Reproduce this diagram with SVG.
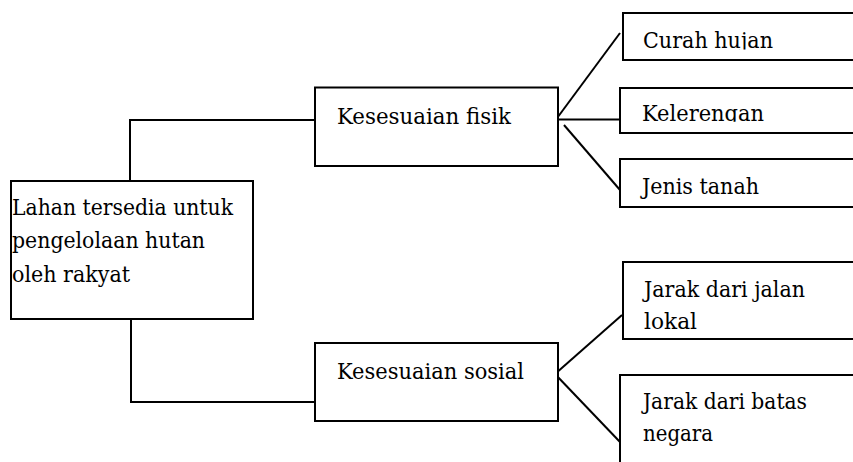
<svg xmlns="http://www.w3.org/2000/svg" width="853" height="462" viewBox="0 0 853 462">
<style>
.box{fill:#fff;stroke:#000;stroke-width:2}
.ln{fill:none;stroke:#000;stroke-width:2}
.t{font-family:'DejaVu Serif','Liberation Serif',serif;font-size:23px;fill:#000}
</style>
<defs>
<clipPath id="c1"><rect x="600" y="0" width="260" height="49.5"/></clipPath>
<clipPath id="c2"><rect x="600" y="80" width="260" height="41.7"/></clipPath>
</defs>
<rect width="853" height="462" fill="#fff"/>
<g id="connectors">
<polyline class="ln" points="130,181 130,120 315,120"/>
<polyline class="ln" points="131,319 131,402 315,402"/>
<line class="ln" x1="556" y1="119.5" x2="620" y2="33"/>
<line class="ln" x1="556" y1="119.5" x2="620" y2="119.5"/>
<line class="ln" x1="564" y1="125" x2="620" y2="190"/>
<line class="ln" x1="555" y1="374" x2="622" y2="315"/>
<line class="ln" x1="555" y1="374" x2="620" y2="442"/>
</g>
<g id="lahan">
<rect class="box" x="11" y="181" width="242" height="138"/>
<text class="t" x="12" y="215" textLength="221" lengthAdjust="spacingAndGlyphs">Lahan tersedia untuk</text>
<text class="t" x="12" y="248" textLength="193" lengthAdjust="spacingAndGlyphs">pengelolaan hutan</text>
<text class="t" x="12" y="281.5" textLength="118" lengthAdjust="spacingAndGlyphs">oleh rakyat</text>
</g>
<g id="fisik">
<rect class="box" x="315" y="87.5" width="243" height="78.5"/>
<text class="t" x="337" y="123.5" textLength="174" lengthAdjust="spacingAndGlyphs">Kesesuaian fisik</text>
</g>
<g id="sosial">
<rect class="box" x="315" y="343" width="243" height="78"/>
<text class="t" x="337" y="379" textLength="187" lengthAdjust="spacingAndGlyphs">Kesesuaian sosial</text>
</g>
<g id="curah">
<rect class="box" x="623" y="13" width="250" height="47"/>
<text class="t" x="643" y="47.5" clip-path="url(#c1)" textLength="130" lengthAdjust="spacingAndGlyphs">Curah hujan</text>
</g>
<g id="kelerengan">
<rect class="box" x="620" y="88" width="253" height="45"/>
<text class="t" x="642" y="120.7" clip-path="url(#c2)" textLength="122" lengthAdjust="spacingAndGlyphs">Kelerengan</text>
</g>
<g id="jenis">
<rect class="box" x="620" y="159" width="253" height="48"/>
<text class="t" x="642" y="193.5" textLength="117" lengthAdjust="spacingAndGlyphs">Jenis tanah</text>
</g>
<g id="jalan">
<rect class="box" x="623" y="262" width="250" height="77"/>
<text class="t" x="644" y="296.7" textLength="161" lengthAdjust="spacingAndGlyphs">Jarak dari jalan</text>
<text class="t" x="644" y="328.5" textLength="53" lengthAdjust="spacingAndGlyphs">lokal</text>
</g>
<g id="batas">
<rect class="box" x="620" y="375" width="253" height="100"/>
<text class="t" x="643" y="408.5" textLength="164" lengthAdjust="spacingAndGlyphs">Jarak dari batas</text>
<text class="t" x="643" y="441" textLength="70" lengthAdjust="spacingAndGlyphs">negara</text>
</g>
</svg>
